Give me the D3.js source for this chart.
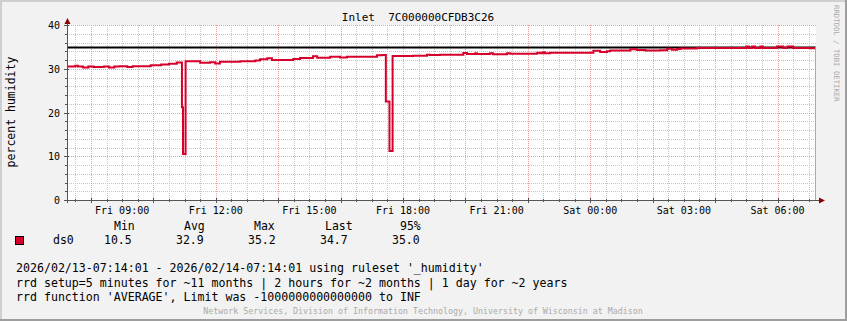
<!DOCTYPE html>
<html><head><meta charset="utf-8">
<script src="https://cdn.jsdelivr.net/npm/d3@7"></script>
<style>
html,body{margin:0;padding:0;background:#f2f2f2;}
svg{display:block;}
text{font-family:"DejaVu Sans Mono",monospace;}
</style></head>
<body>
<svg id="chart" width="847" height="321"></svg>
<script>
// ---------- data ----------
const title = "Inlet  7C000000CFDB3C26";
const yLabel = "percent humidity";
const seriesName = "ds0";
const startTime = "2026-02-13 07:14:01";
const endTime = "2026-02-14 07:14:01";
const times = [
 "2026-02-13 07:14","2026-02-13 07:30","2026-02-13 07:35","2026-02-13 07:45","2026-02-13 07:55",
 "2026-02-13 08:05","2026-02-13 08:25","2026-02-13 08:35","2026-02-13 08:45","2026-02-13 08:55",
 "2026-02-13 09:10","2026-02-13 09:20","2026-02-13 09:35","2026-02-13 09:55","2026-02-13 10:15",
 "2026-02-13 10:30","2026-02-13 10:45","2026-02-13 10:55","2026-02-13 10:57","2026-02-13 11:02",
 "2026-02-13 11:30","2026-02-13 11:49","2026-02-13 11:59","2026-02-13 12:08","2026-02-13 12:47",
 "2026-02-13 13:16","2026-02-13 13:25","2026-02-13 13:39","2026-02-13 13:48","2026-02-13 14:29",
 "2026-02-13 14:42","2026-02-13 15:07","2026-02-13 15:15","2026-02-13 15:40","2026-02-13 15:59",
 "2026-02-13 16:12","2026-02-13 17:10","2026-02-13 17:20","2026-02-13 17:27","2026-02-13 17:34",
 "2026-02-13 17:40","2026-02-13 18:19","2026-02-13 18:46","2026-02-13 18:52","2026-02-13 19:11",
 "2026-02-13 19:56","2026-02-13 20:03","2026-02-13 20:19","2026-02-13 20:22","2026-02-13 20:47",
 "2026-02-13 20:53","2026-02-13 21:20","2026-02-13 21:26","2026-02-13 22:18","2026-02-13 22:24",
 "2026-02-13 22:29","2026-02-13 22:33","2026-02-13 22:43","2026-02-14 00:06","2026-02-14 00:19",
 "2026-02-14 00:32","2026-02-14 00:38","2026-02-14 01:17","2026-02-14 01:30","2026-02-14 01:46",
 "2026-02-14 02:14","2026-02-14 02:28","2026-02-14 02:37","2026-02-14 02:47","2026-02-14 02:53",
 "2026-02-14 03:25","2026-02-14 05:00","2026-02-14 05:05","2026-02-14 05:11","2026-02-14 05:17",
 "2026-02-14 05:27","2026-02-14 05:32","2026-02-14 05:59","2026-02-14 06:11","2026-02-14 06:19",
 "2026-02-14 06:30","2026-02-14 07:03"
];
const values = [
 30.5,30.7,30.5,30.3,30.5,
 30.4,30.5,30.3,30.5,30.55,
 30.4,30.55,30.6,30.8,31.0,
 31.15,31.45,21.2,10.5,31.7,
 31.4,31.5,31.2,31.6,31.7,
 31.9,32.15,32.38,32.0,32.23,
 32.46,32.84,32.53,32.76,32.6,
 32.76,33.07,33.14,22.5,11.2,
 32.9,33.0,33.22,33.14,33.22,
 33.6,33.37,33.52,33.37,33.52,
 33.3,33.52,33.45,33.68,33.52,
 33.75,33.52,33.68,34.13,33.83,
 33.98,34.2,34.44,34.29,34.2,
 34.25,34.6,34.35,34.5,34.65,
 34.74,35.1,34.74,35.1,34.74,
 35.1,34.74,35.1,34.74,35.1,
 34.74,34.7
];
const percentile95 = 35.0;
const statNames = ["Min","Avg","Max","Last","95%"];
const statValues = [10.5, 32.9, 35.2, 34.7, 35.0];
const yTicks = [0, 10, 20, 30, 40];
const commentLines = [
 "2026/02/13-07:14:01 - 2026/02/14-07:14:01 using ruleset '_humidity'",
 "rrd setup=5 minutes for ~11 months | 2 hours for ~2 months | 1 day for ~2 years",
 "rrd function 'AVERAGE', Limit was -1000000000000000 to INF"
];
const footer = "Network Services, Division of Information Technology, University of Wisconsin at Madison";
const watermark = "RRDTOOL / TOBI OETIKER";

// ---------- layout ----------
const W = 847, H = 321;
const L = 67, R = 816, T = 25, B = 200;
const lineColor = "#d6002b";

const svg = d3.select("#chart");
const parse = d3.timeParse("%Y-%m-%d %H:%M");
const parseS = d3.timeParse("%Y-%m-%d %H:%M:%S");
const t0 = parseS(startTime), t1 = parseS(endTime);

const x = d3.scaleTime().domain([t0, t1]).range([L, R]);
const y = d3.scaleLinear().domain([0, 40]).range([B, T]);

// background + frame
svg.append("rect").attr("width", W).attr("height", H).attr("fill", "#f2f2f2");
svg.append("rect").attr("x", L).attr("y", T).attr("width", R - L).attr("height", B - T).attr("fill", "#fff");
svg.append("line").attr("x1",0).attr("x2",W).attr("y1",1).attr("y2",1).attr("stroke","#cfcfcf").attr("stroke-width",2);
svg.append("line").attr("x1",1).attr("x2",1).attr("y1",0).attr("y2",H).attr("stroke","#cfcfcf").attr("stroke-width",2);
svg.append("line").attr("x1",0).attr("x2",W).attr("y1",H-1).attr("y2",H-1).attr("stroke","#9e9e9e").attr("stroke-width",2);
svg.append("line").attr("x1",W-1).attr("x2",W-1).attr("y1",0).attr("y2",H).attr("stroke","#9e9e9e").attr("stroke-width",2);

const g = svg.append("g");
// grid
const minorX = d3.timeMinute.every(30).range(t0, t1).filter(d => d.getMinutes() % 60 !== 0 || d.getHours() % 2 !== 0);
const majorX = d3.timeHour.every(2).range(t0, t1);
const minorY = d3.range(2, 41, 2).filter(v => v % 10 !== 0);
const majorY = yTicks.filter(v => v > 0);
const px = v => Math.round(v) + 0.5;

g.selectAll(".mx").data(minorX).join("line")
  .attr("x1", d => px(x(d))).attr("x2", d => px(x(d))).attr("y1", T).attr("y2", B)
  .attr("stroke", "#c6c6c6").attr("stroke-dasharray", "1,1");
g.selectAll(".my").data(minorY).join("line")
  .attr("x1", L).attr("x2", R).attr("y1", d => px(y(d))).attr("y2", d => px(y(d)))
  .attr("stroke", "#c6c6c6").attr("stroke-dasharray", "1,1");
g.selectAll(".Mx").data(majorX).join("line")
  .attr("x1", d => px(x(d))).attr("x2", d => px(x(d))).attr("y1", T).attr("y2", B)
  .attr("stroke", "#ee9c9c").attr("stroke-dasharray", "1,1");
g.selectAll(".My").data(majorY).join("line")
  .attr("x1", L).attr("x2", R).attr("y1", d => px(y(d))).attr("y2", d => px(y(d)))
  .attr("stroke", "#ee9c9c").attr("stroke-dasharray", "1,1");

// ticks on axes
const axisColor = "#555";
g.selectAll(".tmx").data(minorX).join("line")
  .attr("x1", d => px(x(d))).attr("x2", d => px(x(d))).attr("y1", B - 1).attr("y2", B + 2)
  .attr("stroke", axisColor);
g.selectAll(".tMx").data(majorX).join("line")
  .attr("x1", d => px(x(d))).attr("x2", d => px(x(d))).attr("y1", B - 2).attr("y2", B + 3)
  .attr("stroke", axisColor);
g.selectAll(".tmy").data(minorY).join("line")
  .attr("x1", L - 2).attr("x2", L + 1).attr("y1", d => px(y(d))).attr("y2", d => px(y(d)))
  .attr("stroke", axisColor);
g.selectAll(".tMy").data(yTicks).join("line")
  .attr("x1", L - 3).attr("x2", L + 2).attr("y1", d => px(y(d))).attr("y2", d => px(y(d)))
  .attr("stroke", axisColor);

// data
const data = times.map((t, i) => ({ t: parse(t), v: values[i] }));
data.push({ t: t1, v: values[values.length - 1] });

// 95th percentile rule
svg.append("line").attr("x1", L).attr("x2", R).attr("y1", y(percentile95) + 0.6).attr("y2", y(percentile95) + 0.6)
  .attr("stroke", "#000").attr("stroke-width", 2);

const line = d3.line().x(d => x(d.t)).y(d => y(d.v)).curve(d3.curveStepAfter);
svg.append("path").datum(data).attr("d", line).attr("fill", "none")
  .attr("stroke", lineColor).attr("stroke-width", 2).attr("stroke-linejoin", "miter");

// end marker line
svg.append("line").attr("x1", R - 0.5).attr("x2", R - 0.5).attr("y1", y(percentile95)).attr("y2", B)
  .attr("stroke", "#aaa").attr("stroke-width", 1);

// axes lines
svg.append("line").attr("x1", px(L)).attr("x2", px(L)).attr("y1", B + 3).attr("y2", T - 5).attr("stroke", axisColor);
svg.append("line").attr("x1", L - 3).attr("x2", R + 4).attr("y1", px(B)).attr("y2", px(B)).attr("stroke", axisColor);
svg.append("path").attr("d", `M${L-2.5},${T-1} L${L+3.5},${T-1} L${L+0.5},${T-7} Z`).attr("fill", "#8b0000");
svg.append("path").attr("d", `M${R+3},${B-2.5} L${R+3},${B+3.5} L${R+9},${B+0.5} Z`).attr("fill", "#8b0000");

// axis labels
const fmt = d3.timeFormat("%a %H:%M");
const labelTicks = d3.timeHour.every(3).range(t0, t1);
svg.selectAll(".xl").data(labelTicks).join("text")
  .attr("x", d => x(d)).attr("y", 214).attr("text-anchor", "middle")
  .attr("font-size", "10px").attr("fill", "#000").text(d => fmt(d));
svg.selectAll(".yl").data(yTicks).join("text")
  .attr("x", 60).attr("y", d => y(d) + 4).attr("text-anchor", "end")
  .attr("font-size", "10px").attr("fill", "#000").text(d => d);

// title
svg.append("text").attr("x", 418).attr("y", 21).attr("text-anchor", "middle")
  .attr("font-size", "11px").attr("fill", "#000").attr("xml:space","preserve").text(title);

// y label
svg.append("text").attr("transform", `translate(15,112) rotate(-90)`).attr("text-anchor", "middle")
  .attr("font-size", "11.5px").attr("fill", "#000").text(yLabel);

// watermark
svg.append("text").attr("transform", `translate(834,5) rotate(90)`).attr("text-anchor", "start")
  .attr("font-size", "7.3px").attr("fill", "#aaa").text(watermark);

// legend
svg.append("rect").attr("x", 15.5).attr("y", 236.5).attr("width", 8).attr("height", 8)
  .attr("fill", lineColor).attr("stroke", "#000");
svg.append("text").attr("x", 53).attr("y", 244).attr("font-size", "11.5px").text(seriesName);
const headX = [114, 184, 254, 325, 400];
const valX = [104, 176, 248, 320, 392];
svg.selectAll(".sh").data(statNames).join("text")
  .attr("x", (d, i) => headX[i]).attr("y", 230).attr("font-size", "11.5px").text(d => d);
svg.selectAll(".sv").data(statValues).join("text")
  .attr("x", (d, i) => valX[i]).attr("y", 244).attr("font-size", "11.5px").text(d => d.toFixed(1));

// comments
svg.selectAll(".cm").data(commentLines).join("text")
  .attr("x", 16).attr("y", (d, i) => 272 + i * 14.5).attr("font-size", "11.6px").attr("fill", "#000")
  .attr("xml:space","preserve").text(d => d);

svg.append("text").attr("x", 423).attr("y", 314).attr("text-anchor", "middle")
  .attr("font-size", "8.3px").attr("fill", "#aaa").text(footer);
</script>
</body></html>
